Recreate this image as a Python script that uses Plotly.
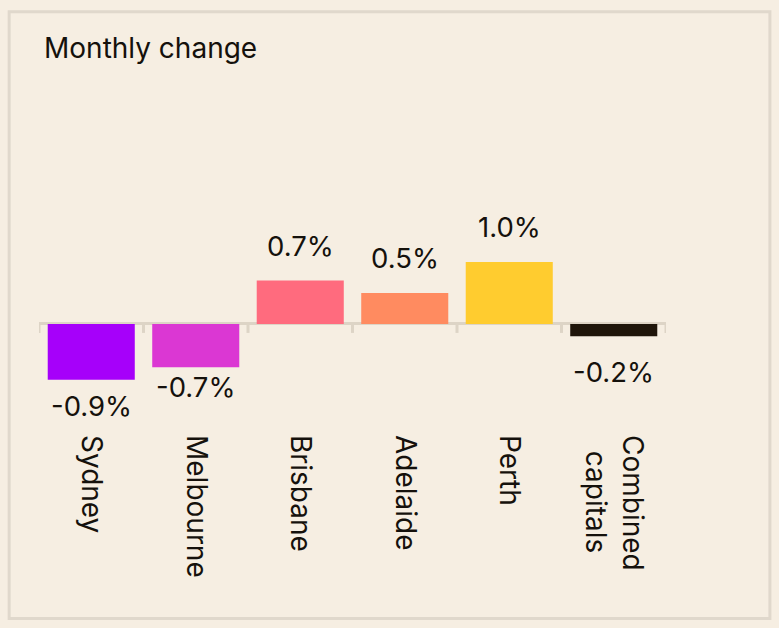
import plotly.graph_objects as go

cities = ["Sydney", "Melbourne", "Brisbane", "Adelaide", "Perth", "Combined<br>\u00a0\u00a0capitals"]
changes = [-0.9, -0.7, 0.7, 0.5, 1.0, -0.2]
labels = ["-0.9%", "-0.7%", "0.7%", "0.5%", "1.0%", "-0.2%"]
colors = ["#A600FA", "#DB37D3", "#FF6B7E", "#FF8B60", "#FFCC2F", "#1F150A"]
label_shift = [-26, -20, 35, 35, 35, -36]

W, H = 779, 628
L, R, T, B = 39.3, W - 665.7, 100.8, H - 423.2
plot_w, plot_h = W - L - R, H - T - B
BG = "#F6EEE2"
LINE = "#DDD4C6"
TXT = "#15110C"
FONT = "Inter"

fig = go.Figure(go.Bar(
    x=list(range(len(cities))), y=changes, marker=dict(color=colors, line=dict(width=0)),
    hoverinfo="skip",
))

for i, (v, t, s) in enumerate(zip(changes, labels, label_shift)):
    fig.add_annotation(x=i, y=v, text=t, showarrow=False, yshift=s, yanchor="middle",
                       font=dict(size=27.5, color=TXT, family=FONT))

for k in range(len(cities) + 1):
    fig.add_shape(type="line", xref="x", yref="y", x0=k - 0.5, x1=k - 0.5,
                  ysizemode="pixel", yanchor=0, y0=0, y1=-9,
                  line=dict(color=LINE, width=3))

# outer frame
def px_to_paper_x(px):
    return (px - L) / plot_w

def px_to_paper_y(py):
    return (H - B - py) / plot_h

fig.add_shape(type="rect", xref="paper", yref="paper",
              x0=px_to_paper_x(9.5), x1=px_to_paper_x(769.5),
              y0=px_to_paper_y(619), y1=px_to_paper_y(11.5),
              line=dict(color="#E0D8CC", width=3), layer="below")

fig.update_layout(
    width=W, height=H,
    margin=dict(l=L, r=R, t=T, b=B, pad=0),
    paper_bgcolor=BG, plot_bgcolor=BG,
    bargap=0.167,
    showlegend=False,
    title=dict(text="Monthly change", xref="container", yref="container",
               x=44 / W, xanchor="left", y=1 - 38 / H, yanchor="top",
               font=dict(size=28, color=TXT, family=FONT)),
    xaxis=dict(range=[-0.5, len(cities) - 0.5], tickmode="array",
               tickvals=list(range(len(cities))), ticktext=cities,
               tickangle=90, tickfont=dict(size=28, color=TXT, family=FONT),
               showgrid=False, zeroline=False, showline=False, ticks="",
               ticklabelstandoff=11),
    yaxis=dict(range=[-1.6, 3.6], visible=True, showticklabels=False, showgrid=False,
               zeroline=True, zerolinecolor=LINE, zerolinewidth=3, showline=False, ticks=""),
)

fig.write_html("out.html")
